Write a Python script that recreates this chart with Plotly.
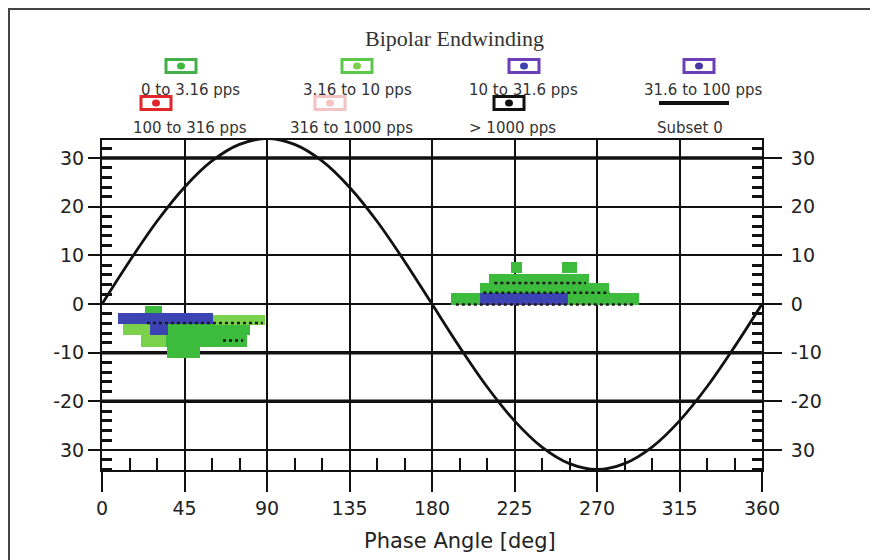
import plotly.graph_objects as go

# ---------------- data ----------------
legend_labels = ["0 to 3.16 pps", "3.16 to 10 pps", "10 to 31.6 pps", "31.6 to 100 pps",
                 "100 to 316 pps", "316 to 1000 pps", "> 1000 pps", "Subset 0"]
legend_colors = ["#45b049", "#5cc84a", "#6a3fb8", "#6a3fb8", "#e2262a", "#f3c2c2", "#111111", "#111111"]
fill_colors = ["#3dbb3d", "#7ad24c", "#3c44b4", "#4a36a6", "#e2262a", "#f3c2c2", "#111111"]

# sine reference (Subset 0)
sine_phase = [0, 15, 30, 45, 60, 75, 90, 105, 120, 135, 150, 165, 180,
              195, 210, 225, 240, 255, 270, 285, 300, 315, 330, 345, 360]
sine_value = [0, 8.8, 17, 24, 29.4, 32.8, 34, 32.8, 29.4, 24, 17, 8.8, 0,
              -8.8, -17, -24, -29.4, -32.8, -34, -32.8, -29.4, -24, -17, -8.8, 0]

# PD cluster rows: amplitude centre, row height, phase start, phase end, rate category
seg_amp   = [-1.2, -3.0, -3.3, -5.2, -5.2, -5.2, -7.6, -7.6, -9.9,
             7.5, 7.5, 5.25, 3.3, 1.05, 1.05, 1.05]
seg_h     = [1.7, 2.3, 2.0, 2.3, 2.3, 2.3, 2.4, 2.4, 2.3,
             2.2, 2.2, 1.9, 2.0, 2.5, 2.5, 2.5]
seg_start = [23.4, 8.5, 60.5, 11.5, 26, 36, 21, 35, 35.4,
             223, 251, 211.3, 206, 190.6, 206, 254]
seg_end   = [32.7, 60.5, 88.8, 26, 36, 80.6, 35, 79, 53.4,
             229, 259, 265.8, 276.7, 206, 254, 293]
seg_cat   = [0, 2, 1, 1, 2, 0, 1, 0, 0,
             0, 0, 0, 0, 0, 2, 0]

# dotted dark rows inside clusters: amplitude, phase start, phase end
dot_amp   = [-3.9, 4.3, 2.3, -0.1, -7.5]
dot_start = [24.5, 214, 208, 193, 66]
dot_end   = [87.7, 264, 277, 291, 77]

y_tickvals = [30, 20, 10, 0, -10, -20, -30]
y_ticktext = ["30", "20", "10", "0", "-10", "-20", "30"]
x_tickvals = [0, 45, 90, 135, 180, 225, 270, 315, 360]
thick_grid = [30, -10, -20]

# ---------------- layout geometry (screen pixels; page body has an 8px margin) ----------------
OFF = 8
W, H = 878 - OFF, 560 - OFF
L, R, T, B = 102 - OFF, 762 - OFF, 140 - OFF, 470 - OFF
def px(x):
    return (x - OFF - L) / (R - L)
def py(y):
    return (B - (y - OFF)) / (B - T)

fig = go.Figure()

# cluster rows as horizontal bars
for cat in sorted(set(seg_cat)):
    idx = [i for i, c in enumerate(seg_cat) if c == cat]
    fig.add_trace(go.Bar(
        orientation="h",
        y=[seg_amp[i] for i in idx],
        x=[seg_end[i] - seg_start[i] for i in idx],
        base=[seg_start[i] for i in idx],
        width=[seg_h[i] for i in idx],
        marker=dict(color=fill_colors[cat], line=dict(width=0)),
        showlegend=False, hoverinfo="skip"))

for a, s, e in zip(dot_amp, dot_start, dot_end):
    fig.add_trace(go.Scatter(x=[s, e], y=[a, a], mode="lines",
                             line=dict(color="#1a1a1a", width=2.5, dash="dot"),
                             showlegend=False, hoverinfo="skip"))

fig.add_trace(go.Scatter(x=sine_phase, y=sine_value, mode="lines",
                         line=dict(color="#111111", width=2.8, shape="spline"),
                         showlegend=False))
# anchor for the right-hand axis
fig.add_trace(go.Scatter(x=[sine_phase[0]], y=[sine_value[0]], yaxis="y2", mode="markers",
                         marker=dict(opacity=0), showlegend=False, hoverinfo="skip"))

YR = [-34.1, 33.7]
tickfont = dict(family="DejaVu Sans", size=19, color="#222222")
minor_y = [v for v in range(-34, 34, 2) if v % 10 != 0]
minor_x = [v for v in range(0, 361, 15) if v % 45 != 0]

fig.update_layout(
    width=W, height=H,
    margin=dict(l=L, r=W - R, t=T, b=H - B, autoexpand=False),
    paper_bgcolor="white", plot_bgcolor="white",
    barmode="overlay", bargap=0,
    showlegend=False,
    xaxis=dict(range=[0, 360], tickmode="array", tickvals=x_tickvals,
               showgrid=True, gridcolor="#111111", gridwidth=2,
               showline=True, linecolor="#111111", linewidth=2, mirror=True,
               ticks="outside", ticklen=20, tickwidth=2, tickcolor="#111111",
               tickfont=tickfont, ticklabelstandoff=0, zeroline=False,
               minor=dict(tickmode="array", tickvals=minor_x, ticks="inside",
                          ticklen=12, tickwidth=2, tickcolor="#111111", showgrid=False)),
    yaxis=dict(range=YR, tickmode="array", tickvals=y_tickvals, ticktext=y_ticktext,
               showgrid=True, gridcolor="#111111", gridwidth=2,
               showline=True, linecolor="#111111", linewidth=2,
               ticks="outside", ticklen=12, tickwidth=2, tickcolor="#111111",
               tickfont=tickfont, zeroline=False,
               minor=dict(tickmode="array", tickvals=minor_y, ticks="inside",
                          ticklen=10, tickwidth=3, tickcolor="#111111", showgrid=False)),
    yaxis2=dict(range=YR, overlaying="y", side="right", tickmode="array",
                tickvals=y_tickvals, ticktext=y_ticktext, showgrid=False,
                showline=True, linecolor="#111111", linewidth=2,
                ticks="outside", ticklen=18, tickwidth=2, tickcolor="#111111",
                tickfont=tickfont, ticklabelstandoff=5, zeroline=False,
                minor=dict(tickmode="array", tickvals=minor_y, ticks="inside",
                           ticklen=10, tickwidth=3, tickcolor="#111111", showgrid=False)),
)

shapes = []
# thicker grid lines
for v in thick_grid:
    shapes.append(dict(type="line", xref="paper", yref="y", x0=0, x1=1, y0=v, y1=v,
                       line=dict(color="#111111", width=3.5), layer="below"))
# outer frame of the picture
shapes.append(dict(type="rect", xref="paper", yref="paper",
                   x0=px(9), x1=px(900), y0=py(9), y1=py(600),
                   line=dict(color="#444444", width=2)))

annotations = []
annotations.append(dict(text="Bipolar Endwinding", xref="paper", yref="paper",
                        x=px(455), y=py(39), showarrow=False, xanchor="center", yanchor="middle",
                        font=dict(family="Liberation Serif", size=22, color="#333333")))
annotations.append(dict(text="Phase Angle [deg]", xref="paper", yref="paper",
                        x=px(460), y=py(541), showarrow=False, xanchor="center", yanchor="middle",
                        font=dict(family="DejaVu Sans", size=21, color="#222222")))

lab_x = [190, 357, 523, 703, 190, 351, 512, 690]
lab_y = [90, 90, 90, 90, 128, 128, 128, 128]
sym_x = [181, 357, 524, 699, 156, 330, 509, 694]
sym_y = [66, 66, 66, 66, 103, 103, 103, 103]
for i, lab in enumerate(legend_labels):
    annotations.append(dict(text=lab, xref="paper", yref="paper",
                            x=px(lab_x[i]), y=py(lab_y[i]), showarrow=False,
                            xanchor="center", yanchor="middle",
                            font=dict(family="DejaVu Sans", size=15, color="#333333")))
    sx, sy = sym_x[i], sym_y[i]
    if i == 7:
        shapes.append(dict(type="line", xref="paper", yref="paper",
                           x0=px(sx - 35), x1=px(sx + 35), y0=py(sy), y1=py(sy),
                           line=dict(color=legend_colors[i], width=4)))
    else:
        shapes.append(dict(type="rect", xref="paper", yref="paper",
                           x0=px(sx - 15), x1=px(sx + 15), y0=py(sy - 6.5), y1=py(sy + 6.5),
                           line=dict(color=legend_colors[i], width=3), fillcolor="white"))
        shapes.append(dict(type="circle", xref="paper", yref="paper",
                           x0=px(sx - 4), x1=px(sx + 4), y0=py(sy - 3.5), y1=py(sy + 3.5),
                           line=dict(width=0), fillcolor=fill_colors[i] if i < 6 else "#111111"))

fig.update_layout(shapes=shapes, annotations=annotations)
fig.write_html("out.html")
